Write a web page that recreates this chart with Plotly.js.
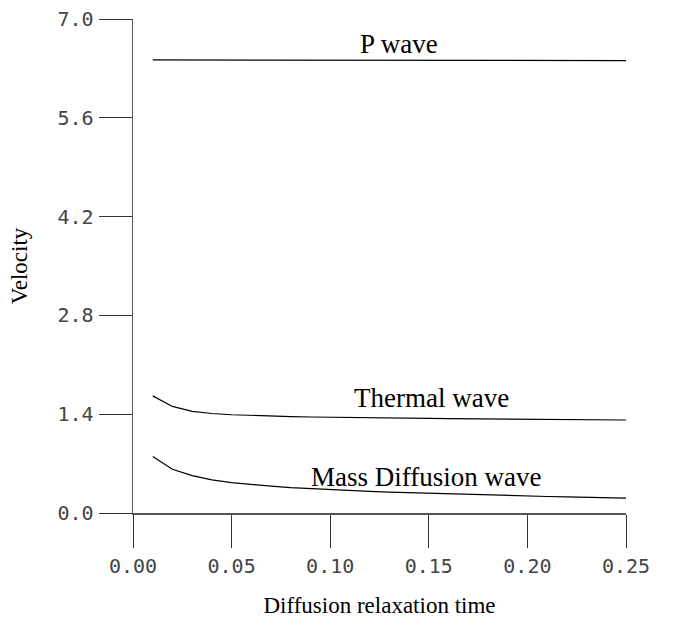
<!DOCTYPE html>
<html>
<head>
<meta charset="utf-8">
<script src="https://cdn.plot.ly/plotly-3.0.1.min.js"></script>
<style>html,body{margin:0;padding:0;background:#fff;}#chart{width:675px;height:619px;}</style>
</head>
<body>
<div id="chart"></div>
<script>
// Diffusion relaxation time
const tau = [0.01,0.02,0.03,0.04,0.05,0.06,0.07,0.08,0.09,0.10,0.11,0.12,0.13,0.14,0.15,0.16,0.17,0.18,0.19,0.20,0.21,0.22,0.23,0.24,0.25];
const pWave = [6.42,6.42,6.42,6.42,6.42,6.42,6.42,6.42,6.42,6.42,6.42,6.42,6.42,6.42,6.415,6.415,6.415,6.415,6.415,6.41,6.41,6.41,6.41,6.41,6.41];
const thermalWave = [1.66,1.51,1.44,1.41,1.392,1.381,1.373,1.366,1.36,1.355,1.351,1.348,1.345,1.342,1.34,1.337,1.335,1.332,1.33,1.328,1.326,1.324,1.322,1.32,1.318];
const massWave = [0.80,0.62,0.53,0.47,0.43,0.40,0.38,0.36,0.345,0.33,0.318,0.307,0.297,0.288,0.28,0.271,0.263,0.255,0.248,0.241,0.234,0.228,0.222,0.216,0.21];
const xTicks = [0,0.05,0.10,0.15,0.20,0.25];
const xTickText = ["0.00","0.05","0.10","0.15","0.20","0.25"];
const yTicks = [0,1.4,2.8,4.2,5.6,7.0];
const yTickText = ["0.0","1.4","2.8","4.2","5.6","7.0"];
const seriesNames = ["P wave","Thermal wave","Mass Diffusion wave"];

const lineStyle = {color:'#000', width:1.2};
const traces = [pWave, thermalWave, massWave].map((ys,i)=>({
  x: tau, y: ys, type:'scatter', mode:'lines', name: seriesNames[i],
  line: lineStyle, hoverinfo:'skip'
}));

const serif = 'Liberation Serif, Times New Roman, serif';
const mono = 'DejaVu Sans Mono, Liberation Mono, monospace';

const layout = {
  width:675, height:619,
  margin:{l:133, r:49, t:19, b:106},
  paper_bgcolor:'#fff', plot_bgcolor:'#fff',
  showlegend:false,
  xaxis:{
    range:[0,0.25], tickvals:xTicks, ticktext:xTickText,
    showgrid:false, zeroline:false, showline:true, linecolor:'#555', linewidth:1.5,
    ticks:'outside', ticklen:33, tickwidth:1, tickcolor:'#333',
    tickfont:{family:mono, size:20, color:'#444'},
    ticklabelstandoff:1,
    title:{text:'Diffusion relaxation time', font:{family:serif, size:23, color:'#000'}, standoff:20},
    automargin:false, fixedrange:true
  },
  yaxis:{
    range:[0,7], tickvals:yTicks, ticktext:yTickText,
    showgrid:false, zeroline:false, showline:true, linecolor:'#555', linewidth:1.5,
    ticks:'outside', ticklen:33, tickwidth:1, tickcolor:'#333',
    tickfont:{family:mono, size:20, color:'#444'},
    ticklabelstandoff:1,
    title:{text:'Velocity', font:{family:serif, size:23, color:'#000'}, standoff:23},
    automargin:false, fixedrange:true
  },
  annotations:[
    {text:seriesNames[0], xref:'paper', yref:'paper', x:(399-133)/493, y:(513-44)/494, showarrow:false, xanchor:'center', yanchor:'middle', font:{family:serif, size:27, color:'#000'}},
    {text:seriesNames[1], xref:'paper', yref:'paper', x:(431.5-133)/493, y:(513-398)/494, showarrow:false, xanchor:'center', yanchor:'middle', font:{family:serif, size:27, color:'#000'}},
    {text:seriesNames[2], xref:'paper', yref:'paper', x:(425.5-133)/493, y:(513-477)/494, showarrow:false, xanchor:'center', yanchor:'middle', font:{family:serif, size:27, color:'#000'}}
  ]
};

Plotly.newPlot('chart', traces, layout, {staticPlot:true, displayModeBar:false});
</script>
</body>
</html>
